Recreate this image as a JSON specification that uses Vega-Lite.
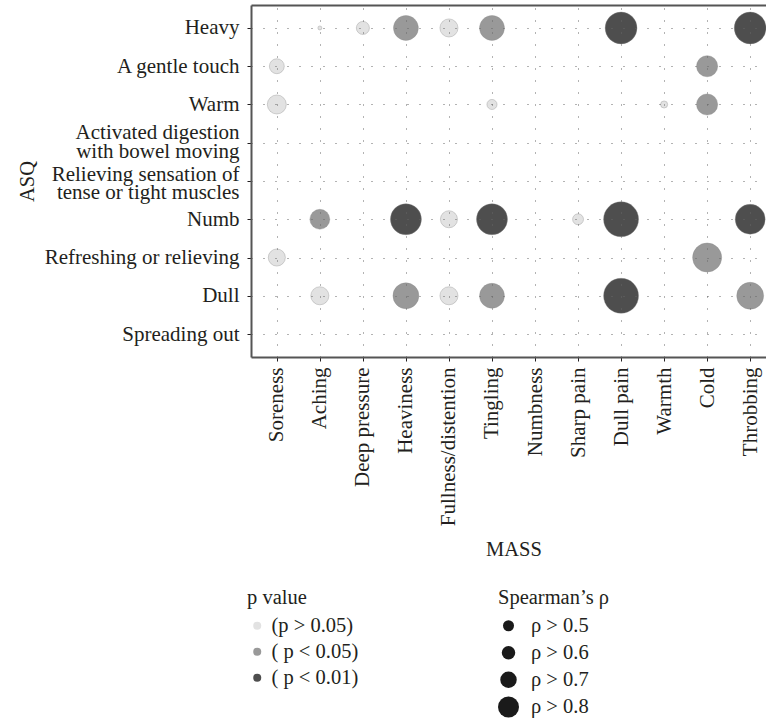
{
  "$schema": "https://vega.github.io/schema/vega-lite/v6.json",
  "width": 515,
  "height": 352,
  "autosize": {"type": "none"},
  "padding": {"left": 251, "top": 5, "right": 0, "bottom": 361},
  "background": "white",
  "config": {"font": "Liberation Serif", "view": {"stroke": null}},
  "data": {
    "values": [
      {"ASQ": "Heavy", "MASS": "Aching", "rho": 0.15, "p": "(p > 0.05)"},
      {"ASQ": "Heavy", "MASS": "Deep pressure", "rho": 0.24, "p": "(p > 0.05)"},
      {"ASQ": "Heavy", "MASS": "Heaviness", "rho": 0.50, "p": "( p < 0.05)"},
      {"ASQ": "Heavy", "MASS": "Fullness/distention", "rho": 0.33, "p": "(p > 0.05)"},
      {"ASQ": "Heavy", "MASS": "Tingling", "rho": 0.50, "p": "( p < 0.05)"},
      {"ASQ": "Heavy", "MASS": "Dull pain", "rho": 0.73, "p": "( p < 0.01)"},
      {"ASQ": "Heavy", "MASS": "Throbbing", "rho": 0.73, "p": "( p < 0.01)"},
      {"ASQ": "A gentle touch", "MASS": "Soreness", "rho": 0.27, "p": "(p > 0.05)"},
      {"ASQ": "A gentle touch", "MASS": "Cold", "rho": 0.40, "p": "( p < 0.05)"},
      {"ASQ": "Warm", "MASS": "Soreness", "rho": 0.35, "p": "(p > 0.05)"},
      {"ASQ": "Warm", "MASS": "Tingling", "rho": 0.20, "p": "(p > 0.05)"},
      {"ASQ": "Warm", "MASS": "Warmth", "rho": 0.17, "p": "(p > 0.05)"},
      {"ASQ": "Warm", "MASS": "Cold", "rho": 0.40, "p": "( p < 0.05)"},
      {"ASQ": "Numb", "MASS": "Aching", "rho": 0.37, "p": "( p < 0.05)"},
      {"ASQ": "Numb", "MASS": "Heaviness", "rho": 0.70, "p": "( p < 0.01)"},
      {"ASQ": "Numb", "MASS": "Fullness/distention", "rho": 0.31, "p": "(p > 0.05)"},
      {"ASQ": "Numb", "MASS": "Tingling", "rho": 0.70, "p": "( p < 0.01)"},
      {"ASQ": "Numb", "MASS": "Sharp pain", "rho": 0.21, "p": "(p > 0.05)"},
      {"ASQ": "Numb", "MASS": "Dull pain", "rho": 0.85, "p": "( p < 0.01)"},
      {"ASQ": "Numb", "MASS": "Throbbing", "rho": 0.66, "p": "( p < 0.01)"},
      {"ASQ": "Refreshing or relieving", "MASS": "Soreness", "rho": 0.31, "p": "(p > 0.05)"},
      {"ASQ": "Refreshing or relieving", "MASS": "Cold", "rho": 0.63, "p": "( p < 0.05)"},
      {"ASQ": "Dull", "MASS": "Aching", "rho": 0.33, "p": "(p > 0.05)"},
      {"ASQ": "Dull", "MASS": "Heaviness", "rho": 0.53, "p": "( p < 0.05)"},
      {"ASQ": "Dull", "MASS": "Fullness/distention", "rho": 0.33, "p": "(p > 0.05)"},
      {"ASQ": "Dull", "MASS": "Tingling", "rho": 0.50, "p": "( p < 0.05)"},
      {"ASQ": "Dull", "MASS": "Dull pain", "rho": 0.85, "p": "( p < 0.01)"},
      {"ASQ": "Dull", "MASS": "Throbbing", "rho": 0.56, "p": "( p < 0.05)"}
    ]
  },
  "layer": [
    {
      "mark": {"type": "circle", "opacity": 1, "stroke": "#888888", "strokeOpacity": 0.35, "strokeWidth": 1},
      "encoding": {
        "x": {
          "field": "MASS", "type": "nominal",
          "scale": {"type": "point", "domain": ["Soreness", "Aching", "Deep pressure", "Heaviness", "Fullness/distention", "Tingling", "Numbness", "Sharp pain", "Dull pain", "Warmth", "Cold", "Throbbing"], "range": [0, 525], "padding": 0.6},
          "axis": {
            "title": "MASS", "orient": "bottom", "labelAngle": -90, "labelAlign": "right", "labelBaseline": "middle",
            "labelFontSize": 21, "labelColor": "#231f20", "labelPadding": 6, "labelLimit": 300,
            "ticks": true, "tickSize": 4, "tickColor": "#231f20", "tickWidth": 1,
            "domainColor": "#555555", "domainWidth": 2,
            "grid": true, "gridColor": "#666666", "gridDash": [1, 11], "gridWidth": 1,
            "titleFontSize": 20.5, "titleFontWeight": "normal", "titleColor": "#231f20", "titlePadding": 14,
            "zindex": 1
          }
        },
        "y": {
          "field": "ASQ", "type": "nominal",
          "scale": {"type": "point", "domain": ["Heavy", "A gentle touch", "Warm", "Activated digestion with bowel moving", "Relieving sensation of tense or tight muscles", "Numb", "Refreshing or relieving", "Dull", "Spreading out"], "padding": 0.6},
          "axis": {
            "title": "ASQ",
            "labelExpr": "datum.value === 'Activated digestion with bowel moving' ? ['Activated digestion', 'with bowel moving'] : datum.value === 'Relieving sensation of tense or tight muscles' ? ['Relieving sensation of', 'tense or tight muscles'] : datum.label",
            "labelOffset": {"condition": [{"test": "datum.value === 'Activated digestion with bowel moving'", "value": -10}, {"test": "datum.value === 'Relieving sensation of tense or tight muscles'", "value": -7}], "value": 0},
            "labelFontSize": 21, "labelLineHeight": 18.5, "labelColor": "#231f20", "labelPadding": 8, "labelLimit": 300,
            "ticks": true, "tickSize": 4, "tickColor": "#231f20", "tickWidth": 1,
            "domainColor": "#555555", "domainWidth": 2,
            "grid": true, "gridColor": "#666666", "gridDash": [1, 11], "gridWidth": 1,
            "titleFontSize": 20.5, "titleFontWeight": "normal", "titleColor": "#231f20", "titlePadding": 14,
            "zindex": 1
          }
        },
        "color": {
          "field": "p", "type": "nominal",
          "scale": {"domain": ["(p > 0.05)", "( p < 0.05)", "( p < 0.01)"], "range": ["#e2e2e2", "#999999", "#4e4e4e"]},
          "legend": {
            "title": "p value", "orient": "none", "legendX": -4, "legendY": 583, "direction": "vertical",
            "symbolType": "circle", "symbolSize": 64, "symbolStrokeWidth": 0,
            "labelFontSize": 20.5, "labelColor": "#231f20", "labelOffset": 4,
            "titleFontSize": 20.5, "titleFontWeight": "normal", "titleColor": "#231f20", "titlePadding": 7,
            "rowPadding": 5, "padding": 0
          }
        },
        "size": {
          "field": "rho", "type": "quantitative",
          "scale": {"domain": [0.15, 0.85], "range": [16, 1225]},
          "legend": {
            "title": "Spearman’s ρ", "values": [0.211, 0.246, 0.298, 0.396],
            "labelExpr": "datum.value < 0.23 ? 'ρ > 0.5' : datum.value < 0.27 ? 'ρ > 0.6' : datum.value < 0.35 ? 'ρ > 0.7' : 'ρ > 0.8'",
            "orient": "none", "legendX": 247, "legendY": 583, "direction": "vertical",
            "symbolType": "circle", "symbolFillColor": "#1a1a1a", "symbolStrokeColor": "#1a1a1a", "symbolStrokeWidth": 0, "symbolOpacity": 1,
            "labelFontSize": 20.5, "labelColor": "#231f20", "labelOffset": 12,
            "titleFontSize": 20.5, "titleFontWeight": "normal", "titleColor": "#231f20", "titlePadding": 7,
            "rowPadding": 6, "padding": 0
          }
        }
      }
    },
    {
      "mark": {"type": "circle", "opacity": 0},
      "encoding": {
        "x": {
          "field": "MASS", "type": "nominal",
          "axis": {"orient": "top", "labels": false, "ticks": false, "grid": false, "title": null, "domain": true, "domainColor": "#555555", "domainWidth": 2}
        }
      }
    }
  ],
  "resolve": {"axis": {"x": "independent"}}
}
